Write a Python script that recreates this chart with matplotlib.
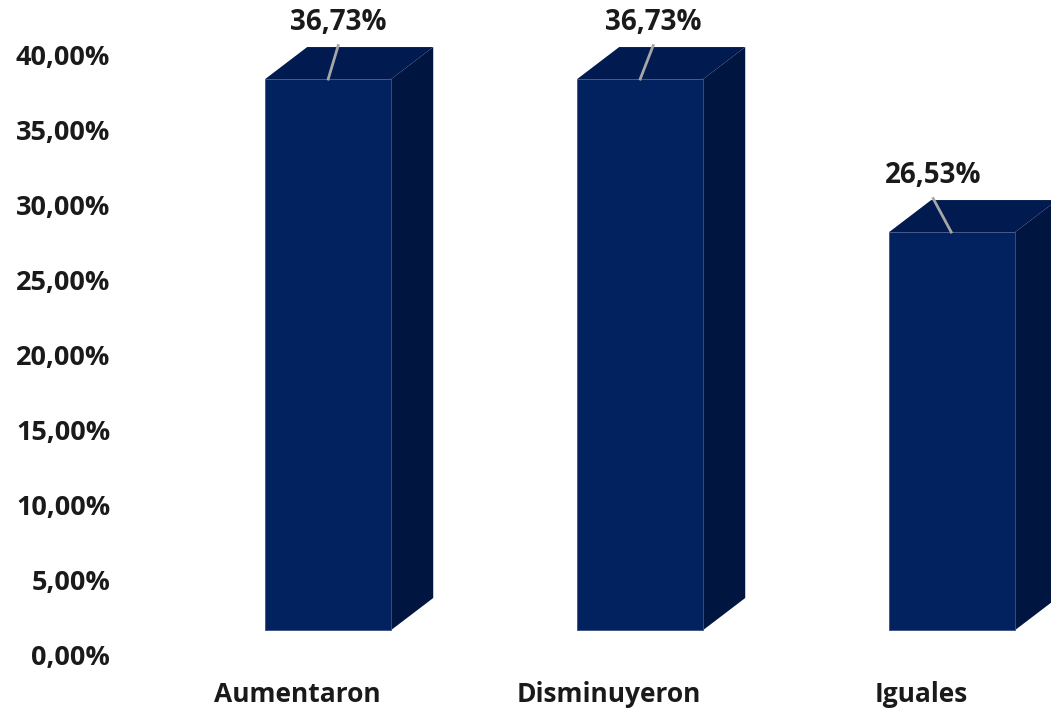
import matplotlib.pyplot as plt
from matplotlib.patches import Polygon
from matplotlib.ticker import FuncFormatter
import numpy as np

# data
categories = ['Aumentaron', 'Disminuyeron', 'Iguales']
values = [36.73, 36.73, 26.53]
value_labels = ['36,73%', '36,73%', '26,53%']
ticks = [0, 5, 10, 15, 20, 25, 30, 35, 40]

# 3d look
base = 25 / 15.0        # floor of the front face
depth_x = 42 / 312.0
depth_y = 32 / 15.0
shift = 0.1             # front face centre relative to the category tick
half_w = 0.202
c_front = '#02215F'
c_top = '#011A4F'
c_side = '#001640'

plt.rcParams['font.family'] = ['Open Sans', 'DejaVu Sans']
fig = plt.figure(figsize=(10.51, 7.11), dpi=100)
ax = fig.add_axes([118 / 1051, 56 / 711, 933 / 1051, 655 / 711])
ax.set_xlim(-179 / 312, 754 / 312)
ax.set_ylim(0, 655 / 15)

x = np.arange(len(categories))
ax.bar(x + shift, values, width=2 * half_w, bottom=base, color=c_front,
       edgecolor='#3B5183', linewidth=0.6, zorder=3)

for i, v in enumerate(values):
    l = i + shift - half_w
    r = i + shift + half_w
    t = base + v
    top = [(l, t), (r, t), (r + depth_x, t + depth_y), (l + depth_x, t + depth_y)]
    side = [(r, base), (r + depth_x, base + depth_y), (r + depth_x, t + depth_y), (r, t)]
    ax.add_patch(Polygon(top, closed=True, facecolor=c_top, edgecolor='none', zorder=2))
    ax.add_patch(Polygon(side, closed=True, facecolor=c_side, edgecolor='none', zorder=2))

# data labels with leader lines
label_dx = [10 / 312, 13 / 312, -19 / 312]
line_dx = [0, 0, -1 / 312]
for i, v in enumerate(values):
    t = base + v
    x0 = i + shift + line_dx[i]
    x1 = i + shift + label_dx[i]
    ax.plot([x0, x1], [t, t + depth_y + 0.1], color='#A6A6A6', lw=2, zorder=4)
    ax.text(x1, t + 3.75, value_labels[i], ha='center', va='center',
            fontsize=20, fontweight='bold', color='#1a1a1a')

ax.set_yticks(ticks)
ax.yaxis.set_major_formatter(FuncFormatter(lambda v, p: f'{v:.2f}%'.replace('.', ',')))
ax.set_xticks(x)
ax.set_xticklabels(categories)
ax.tick_params(axis='y', length=0, pad=5.5, labelsize=19.5)
ax.tick_params(axis='x', length=0, pad=19, labelsize=19)
for lab in ax.get_xticklabels() + ax.get_yticklabels():
    lab.set_fontweight('bold')
    lab.set_color('#1a1a1a')
for s in ax.spines.values():
    s.set_visible(False)
ax.patch.set_alpha(0)

plt.savefig('out.png', dpi=100)
